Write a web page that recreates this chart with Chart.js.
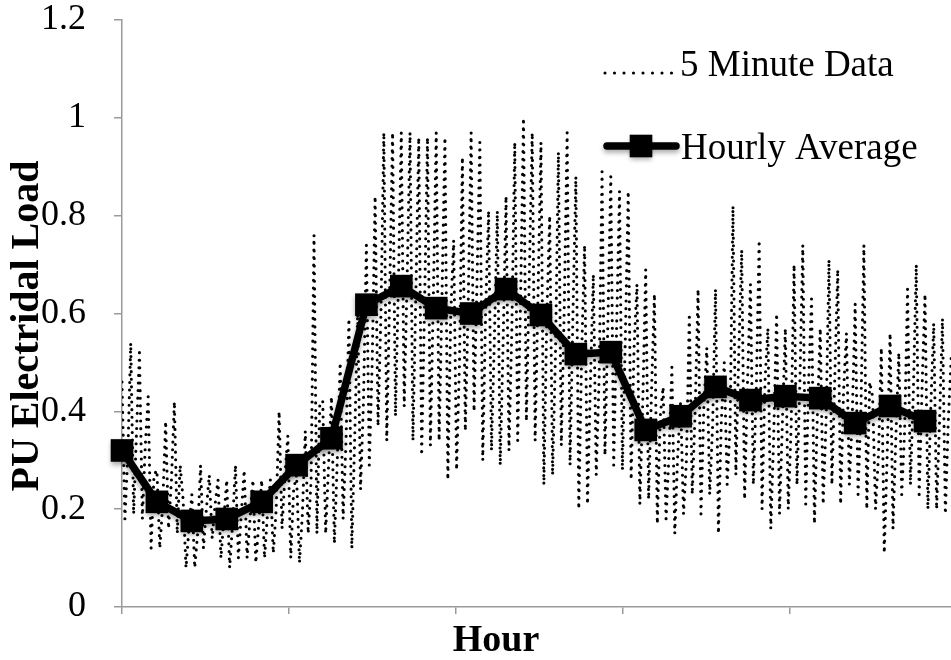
<!DOCTYPE html>
<html>
<head>
<meta charset="utf-8">
<script src="https://cdn.jsdelivr.net/npm/chart.js@4.4.1/dist/chart.umd.min.js"></script>
<style>
  html, body { margin: 0; padding: 0; background: #ffffff; overflow: hidden; }
  #wrap { width: 951px; height: 660px; }
</style>
</head>
<body>
<div id="wrap"><canvas id="load" width="951" height="660"></canvas></div>
<script>
// Per-unit electrical load, one value every 5 minutes over 24 hours (288 samples)
const fiveMinuteLoad = [
  0.46, 0.18, 0.31,  0.54, 0.19, 0.36,  0.52, 0.18, 0.33,  0.43, 0.12, 0.27,
  0.28, 0.12, 0.21,  0.38, 0.16, 0.26,  0.42, 0.15, 0.29,  0.22, 0.08, 0.16,
  0.23, 0.08, 0.15,  0.29, 0.12, 0.20,  0.27, 0.14, 0.21,  0.26, 0.10, 0.18,
  0.26, 0.08, 0.17,  0.29, 0.10, 0.19,  0.28, 0.10, 0.18,  0.26, 0.09, 0.17,
  0.26, 0.10, 0.19,  0.26, 0.11, 0.20,  0.40, 0.16, 0.27,  0.35, 0.10, 0.24,
  0.27, 0.09, 0.19,  0.36, 0.15, 0.26,  0.76, 0.15, 0.42,  0.42, 0.15, 0.29,
  0.43, 0.13, 0.30,  0.50, 0.18, 0.34,  0.59, 0.12, 0.35,  0.60, 0.24, 0.42,
  0.74, 0.29, 0.50,  0.84, 0.37, 0.60,  0.97, 0.34, 0.64,  0.97, 0.39, 0.66,
  0.97, 0.41, 0.67,  0.97, 0.34, 0.64,  0.96, 0.31, 0.62,  0.96, 0.33, 0.63,
  0.97, 0.34, 0.64,  0.96, 0.26, 0.60,  0.75, 0.28, 0.50,  0.92, 0.36, 0.62,
  0.97, 0.40, 0.66,  0.95, 0.30, 0.61,  0.81, 0.32, 0.55,  0.81, 0.29, 0.54,
  0.84, 0.32, 0.57,  0.95, 0.34, 0.63,  1.00, 0.38, 0.68,  0.97, 0.34, 0.64,
  0.95, 0.25, 0.59,  0.80, 0.27, 0.52,  0.93, 0.33, 0.61,  0.97, 0.29, 0.60,
  0.88, 0.20, 0.52,  0.74, 0.21, 0.46,  0.68, 0.27, 0.47,  0.89, 0.31, 0.58,
  0.88, 0.29, 0.57,  0.85, 0.28, 0.55,  0.85, 0.26, 0.53,  0.66, 0.21, 0.42,
  0.69, 0.22, 0.44,  0.64, 0.17, 0.39,  0.45, 0.18, 0.31,  0.49, 0.15, 0.31,
  0.42, 0.19, 0.30,  0.60, 0.23, 0.40,  0.65, 0.19, 0.41,  0.53, 0.23, 0.37,
  0.65, 0.15, 0.38,  0.50, 0.25, 0.37,  0.82, 0.27, 0.52,  0.73, 0.22, 0.46,
  0.66, 0.25, 0.44,  0.75, 0.20, 0.46,  0.57, 0.16, 0.35,  0.60, 0.19, 0.38,
  0.57, 0.20, 0.37,  0.70, 0.25, 0.46,  0.74, 0.21, 0.46,  0.63, 0.17, 0.39,
  0.57, 0.21, 0.38,  0.71, 0.25, 0.47,  0.69, 0.21, 0.44,  0.56, 0.25, 0.39,
  0.62, 0.23, 0.41,  0.74, 0.20, 0.46,  0.43, 0.20, 0.31,  0.53, 0.11, 0.31,
  0.56, 0.16, 0.35,  0.52, 0.23, 0.36,  0.65, 0.25, 0.44,  0.70, 0.23, 0.45,
  0.64, 0.20, 0.41,  0.58, 0.20, 0.38,  0.59, 0.19, 0.38,  0.51, 0.19, 0.34
];

// Hourly average of the same load, hours 0..23
const hourlyAverage = [
  0.32, 0.215, 0.176, 0.18, 0.215, 0.29, 0.345, 0.618,
  0.656, 0.611, 0.60, 0.65, 0.597, 0.517, 0.521, 0.362,
  0.39, 0.45, 0.423, 0.431, 0.427, 0.376, 0.411, 0.38
];

const seriesNames = ['5 Minute Data', 'Hourly Average'];
const yTickValues = [0, 0.2, 0.4, 0.6, 0.8, 1, 1.2];
const xTitle = 'Hour';
const yTitle = 'PU Electridal Load';

const SAMPLES_PER_HOUR = 12;
const LAST_SAMPLE = fiveMinuteLoad.length - 1;   // 287
const X_TICK_COUNT = 5;                           // tick marks along the hour axis

const serif = "'Liberation Serif', 'Times New Roman', serif";
const axisGray = '#9a9a9a';
const SHADOW = { color: 'rgba(0,0,0,0.33)', blur: 5, dy: 3 };

const fiveMinuteDataset = {
  label: seriesNames[0],
  data: fiveMinuteLoad.map((v, i) => ({ x: i, y: v })),
  borderColor: '#000000',
  borderWidth: 3.1,
  borderDash: [0, 7.6],
  borderCapStyle: 'round',
  pointRadius: 0,
  tension: 0,
  order: 1
};

const hourlyDataset = {
  label: seriesNames[1],
  data: hourlyAverage.map((v, h) => ({ x: h * SAMPLES_PER_HOUR, y: v })),
  borderColor: '#000000',
  backgroundColor: '#000000',
  borderWidth: 7.5,
  borderJoinStyle: 'round',
  borderCapStyle: 'round',
  pointStyle: 'rect',
  pointRadius: 16,
  pointBorderWidth: 0,
  pointHoverRadius: 16,
  tension: 0,
  clip: { left: 20, top: 20, right: 0, bottom: 20 },
  order: 0
};

// Soft drop shadow under the hourly-average line
const hourlyShadow = {
  id: 'hourlyShadow',
  beforeDatasetDraw(chart, args) {
    if (args.meta.order !== 0) return;
    const ctx = chart.ctx;
    ctx.save();
    ctx.shadowColor = SHADOW.color;
    ctx.shadowBlur = SHADOW.blur;
    ctx.shadowOffsetX = 0;
    ctx.shadowOffsetY = SHADOW.dy;
  },
  afterDatasetDraw(chart, args) {
    if (args.meta.order !== 0) return;
    chart.ctx.restore();
  }
};

// Axis titles and the legend inside the plot (top right)
const annotations = {
  id: 'annotations',
  afterDraw(chart) {
    const ctx = chart.ctx;
    const [dots, hourly] = chart.data.datasets;
    ctx.save();
    ctx.fillStyle = '#000000';

    // axis titles
    ctx.font = 'bold 38px ' + serif;
    ctx.textAlign = 'center';
    ctx.textBaseline = 'middle';
    ctx.fillText(xTitle, 496, 641);
    ctx.save();
    ctx.translate(28, 326);
    ctx.rotate(-Math.PI / 2);
    ctx.font = 'bold 40px ' + serif;
    ctx.fillText(yTitle, 0, 0);
    ctx.restore();

    // legend
    ctx.font = '37px ' + serif;
    ctx.textAlign = 'left';
    ctx.textBaseline = 'alphabetic';

    ctx.beginPath();
    ctx.strokeStyle = dots.borderColor;
    ctx.lineWidth = dots.borderWidth;
    ctx.lineCap = dots.borderCapStyle;
    ctx.setLineDash([0, 9.5]);
    ctx.moveTo(605, 73);
    ctx.lineTo(672, 73);
    ctx.stroke();
    ctx.setLineDash([]);
    ctx.fillText(dots.label, 680, 76);

    ctx.save();
    ctx.shadowColor = SHADOW.color;
    ctx.shadowBlur = SHADOW.blur;
    ctx.shadowOffsetY = SHADOW.dy;
    ctx.beginPath();
    ctx.strokeStyle = hourly.borderColor;
    ctx.lineWidth = hourly.borderWidth;
    ctx.lineCap = 'round';
    ctx.moveTo(607, 146);
    ctx.lineTo(676, 146);
    ctx.stroke();
    const side = hourly.pointRadius * Math.SQRT2;
    ctx.fillStyle = hourly.backgroundColor;
    ctx.fillRect(641 - side / 2, 146 - side / 2, side, side);
    ctx.restore();
    ctx.fillText(hourly.label, 681, 159);
    ctx.restore();
  }
};

new Chart(document.getElementById('load'), {
  type: 'line',
  data: { datasets: [fiveMinuteDataset, hourlyDataset] },
  options: {
    responsive: false,
    animation: false,
    events: [],
    layout: { autoPadding: false, padding: { top: 20, right: 0, bottom: 0, left: 0 } },
    plugins: { legend: { display: false }, tooltip: { enabled: false } },
    scales: {
      x: {
        type: 'linear',
        min: 0,
        max: LAST_SAMPLE * 829 / 835,
        afterBuildTicks(scale) {
          const step = LAST_SAMPLE / X_TICK_COUNT;
          const t = [];
          for (let i = 0; i < X_TICK_COUNT; i++) t.push({ value: i * step });
          scale.ticks = t;
        },
        afterFit(scale) {
          scale.height = 53;
          scale.paddingLeft = 0;
          scale.paddingRight = 0;
        },
        ticks: { display: false },
        grid: { drawOnChartArea: false, drawTicks: true, tickLength: 7, color: axisGray, lineWidth: 1.5 },
        border: { display: true, color: axisGray, width: 1.5 }
      },
      y: {
        type: 'linear',
        min: 0,
        max: 1.2,
        afterBuildTicks(scale) { scale.ticks = yTickValues.map(v => ({ value: v })); },
        afterFit(scale) {
          scale.width = 122;
          scale.paddingTop = 0;
          scale.paddingBottom = 0;
        },
        ticks: {
          color: '#000000',
          font: { family: serif, size: 36, lineHeight: 1 },
          padding: 28,
          callback: v => String(+v.toFixed(1))
        },
        grid: { drawOnChartArea: false, drawTicks: true, tickLength: 8, color: axisGray, lineWidth: 1.5 },
        border: { display: true, color: axisGray, width: 1.5 }
      }
    }
  },
  plugins: [hourlyShadow, annotations]
});
</script>
</body>
</html>
